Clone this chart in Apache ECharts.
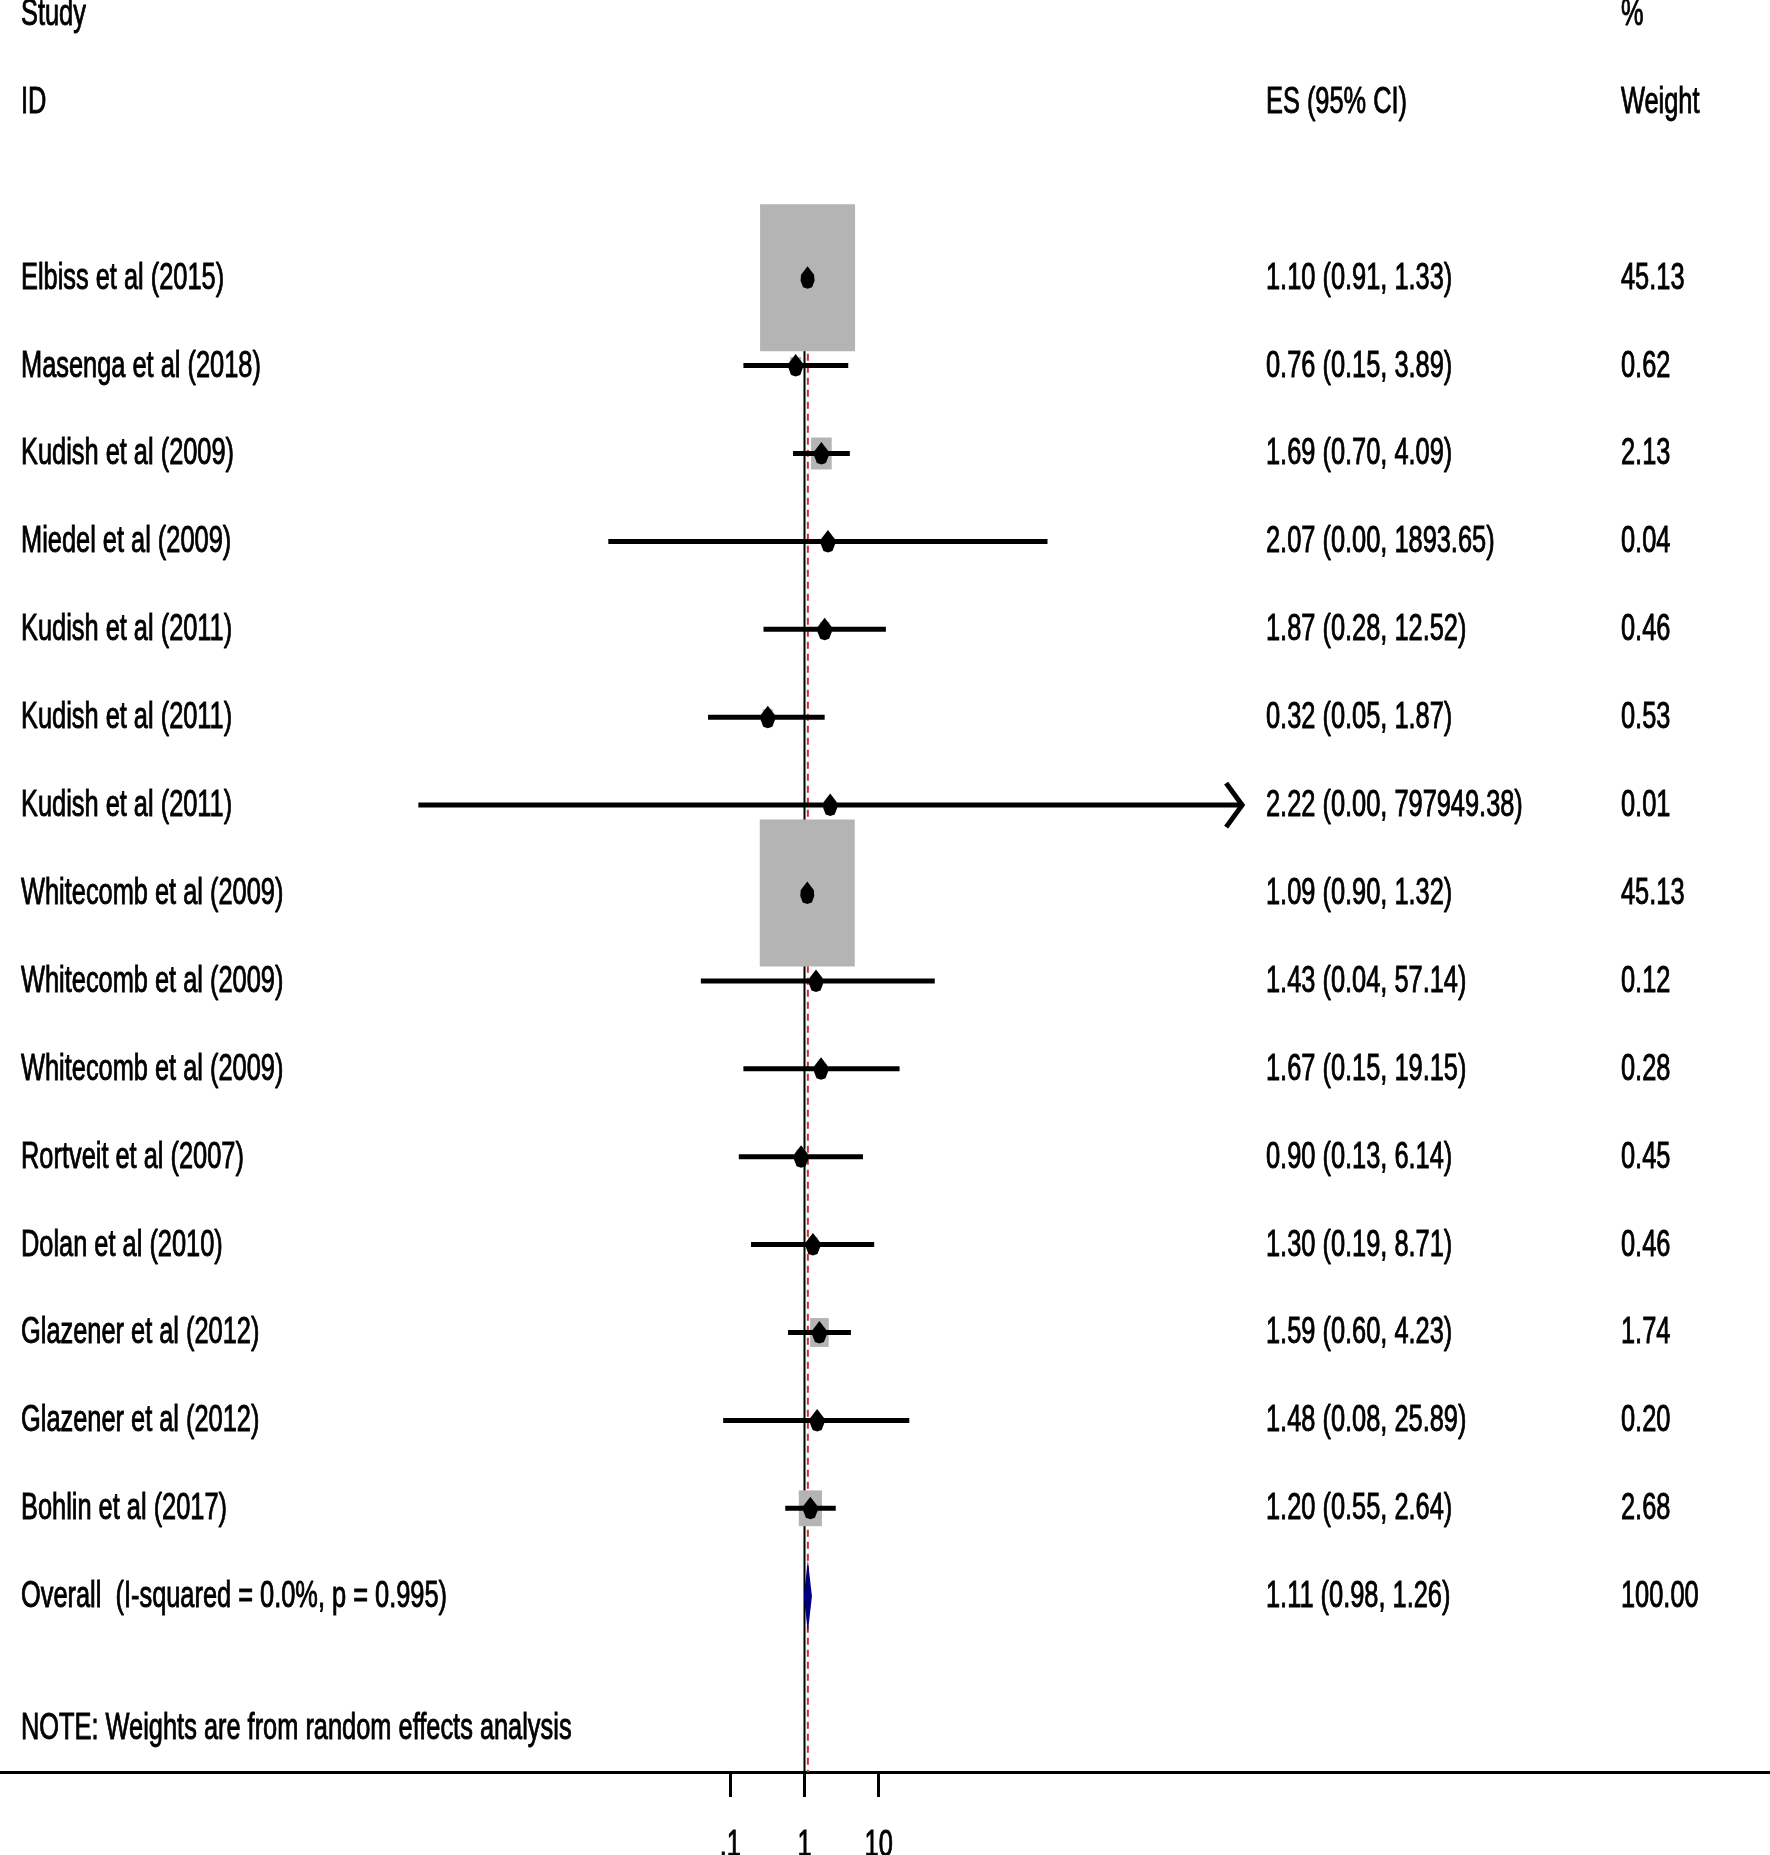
<!DOCTYPE html>
<html><head><meta charset="utf-8">
<script src="https://cdn.jsdelivr.net/npm/echarts@6/dist/echarts.min.js"></script>
<style>html,body{margin:0;padding:0;background:#fff}#c{width:1770px;height:1855px}</style>
</head><body><div id="c"></div>
<script>
// ---------------- data ----------------
const studies = ['Elbiss et al (2015)','Masenga et al (2018)','Kudish et al (2009)','Miedel et al (2009)',
  'Kudish et al (2011)','Kudish et al (2011)','Kudish et al (2011)','Whitecomb et al (2009)',
  'Whitecomb et al (2009)','Whitecomb et al (2009)','Rortveit et al (2007)','Dolan et al (2010)',
  'Glazener et al (2012)','Glazener et al (2012)','Bohlin et al (2017)'];
const es      = [1.10, 0.76, 1.69, 2.07, 1.87, 0.32, 2.22, 1.09, 1.43, 1.67, 0.90, 1.30, 1.59, 1.48, 1.20];
const ciLow   = [0.91, 0.15, 0.70, 0.00226, 0.28, 0.05, 0.0000062, 0.90, 0.04, 0.15, 0.13, 0.19, 0.60, 0.08, 0.55];
const ciHigh  = [1.33, 3.89, 4.09, 1893.65, 12.52, 1.87, 797949.38, 1.32, 57.14, 19.15, 6.14, 8.71, 4.23, 25.89, 2.64];
const weights = [45.13, 0.62, 2.13, 0.04, 0.46, 0.53, 0.01, 45.13, 0.12, 0.28, 0.45, 0.46, 1.74, 0.20, 2.68];
const arrowRight = [0,0,0,0,0,0,1,0,0,0,0,0,0,0,0];
const overallLabel = 'Overall  (I-squared = 0.0%, p = 0.995)';
const overallES = 1.11, overallLow = 0.98, overallHigh = 1.26, overallWeight = 100.00;
const nullValue = 1;
const headerTop = ['Study', '', '%'];
const headerBottom = ['ID', 'ES (95% CI)', 'Weight'];
const noteText = 'NOTE: Weights are from random effects analysis';
const tickValues = [0.1, 1, 10];
const tickLabels = ['.1', '1', '10'];

// ---------------- layout ----------------
const W = 1770, H = 1855;
const X1 = 804.5, DEC = 74.15;          // pixel of ES=1 and pixels per decade
const COLX = [21, 1266, 1621];
const SX = 0.705, FS = 36, DY = 1;
const FONT = '"Liberation Sans", Arial, sans-serif';
const fmt = v => v.toFixed(2);

function txt(x, y, s, align) {
  return { type: 'text', x: x, y: y + DY, scaleX: SX,
    style: { text: s, x: 0, y: 0, fill: '#000', stroke: '#000', lineWidth: 0.9,
             fontSize: FS, fontFamily: FONT,
             align: align || 'left', verticalAlign: 'middle' } };
}
const drop = [[0,-11.5],[6.5,-3],[7,3],[4.5,9.5],[0,11],[-4.5,9.5],[-7,3],[-6.5,-3]];

const chart = echarts.init(document.getElementById('c'), null, { renderer: 'canvas' });
const option = {
  animation: false,
  backgroundColor: '#fff',
  grid: [
    { left: 0, right: 0, top: 14, bottom: 83, outerBoundsMode: 'none', containLabel: false },
    { left: X1 - DEC, right: W - (X1 + DEC), top: 1700, bottom: 83, outerBoundsMode: 'none', containLabel: false }
  ],
  xAxis: [
    { type: 'log', logBase: 10, gridIndex: 0,
      min: Math.pow(10, -X1 / DEC), max: Math.pow(10, (W - X1) / DEC),
      axisLine: { show: true, onZero: false, lineStyle: { color: '#000', width: 3 } },
      axisTick: { show: false }, axisLabel: { show: false }, splitLine: { show: false } },
    { type: 'log', logBase: 10, gridIndex: 1, min: tickValues[0], max: tickValues[tickValues.length - 1],
      axisLine: { show: false },
      axisTick: { show: true, length: 25, lineStyle: { color: '#000', width: 3 } },
      axisLabel: { show: false },
      splitLine: { show: false } }
  ],
  yAxis: [
    { type: 'value', gridIndex: 0, min: -3, max: 17, inverse: true, show: false },
    { type: 'value', gridIndex: 1, min: 0, max: 1, show: false }
  ],
  series: [
    { // reference lines: null line (solid black) and overall line (red dashed)
      type: 'custom', xAxisIndex: 0, yAxisIndex: 0, z: 1, silent: true,
      data: [[nullValue, 0], [overallES, 1]],
      encode: { x: 0 },
      renderItem: function (params, api) {
        const v = api.value(0);
        const t = api.coord([v, -0.5]), b = api.coord([v, 17]);
        const dashed = api.value(1) === 1;
        return { type: 'line', shape: { x1: t[0], y1: t[1], x2: b[0], y2: b[1] },
          style: dashed ? { stroke: '#c8323c', lineWidth: 2, lineDash: [7, 5] }
                        : { stroke: '#000', lineWidth: 2 } };
      }
    },
    { // studies
      type: 'custom', xAxisIndex: 0, yAxisIndex: 0, z: 2, silent: true,
      data: studies.map((s, i) => [i, es[i], ciLow[i], ciHigh[i], weights[i], arrowRight[i]]),
      encode: { x: 1, y: 0 },
      renderItem: function (params, api) {
        const i = params.dataIndex;
        const row = api.value(0);
        const c = api.coord([api.value(1), row]);
        const cl = api.coord([api.value(2), row]);
        const ch = api.coord([api.value(3), row]);
        const w = api.value(4);
        const bw = 14.14 * Math.sqrt(w), bh = 21.9 * Math.sqrt(w);
        const ch0 = [
          { type: 'rect', shape: { x: c[0] - bw / 2, y: c[1] - bh / 2, width: bw, height: bh }, style: { fill: '#b4b4b4' } },
          { type: 'line', shape: { x1: cl[0], y1: c[1], x2: ch[0], y2: c[1] }, style: { stroke: '#000', lineWidth: 5 } }
        ];
        if (api.value(5) === 1) {
          ch0.push({ type: 'polyline', shape: { points: [[ch[0] - 16, c[1] - 22], [ch[0], c[1]], [ch[0] - 16, c[1] + 22]] },
            style: { stroke: '#000', lineWidth: 5, fill: null, lineJoin: 'miter' } });
        }
        ch0.push({ type: 'polygon', shape: { points: drop.map(p => [c[0] + p[0], c[1] + p[1]]) }, style: { fill: '#000' } });
        ch0.push(txt(COLX[0], c[1], studies[i]));
        ch0.push(txt(COLX[1], c[1], fmt(es[i]) + ' (' + fmt(ciLow[i]) + ', ' + fmt(ciHigh[i]) + ')'));
        ch0.push(txt(COLX[2], c[1], fmt(weights[i])));
        return { type: 'group', children: ch0 };
      }
    },
    { // overall diamond
      type: 'custom', xAxisIndex: 0, yAxisIndex: 0, z: 3, silent: true,
      data: [[studies.length, overallES, overallLow, overallHigh, overallWeight]],
      encode: { x: 1, y: 0 },
      renderItem: function (params, api) {
        const row = api.value(0);
        const c = api.coord([api.value(1), row]);
        const cl = api.coord([api.value(2), row]);
        const ch = api.coord([api.value(3), row]);
        return { type: 'group', children: [
          { type: 'polygon', shape: { points: [[cl[0], c[1]], [c[0], c[1] - 36], [ch[0], c[1]], [c[0], c[1] + 36]] },
            style: { fill: '#000080' } },
          txt(COLX[0], c[1], overallLabel),
          txt(COLX[1], c[1], fmt(overallES) + ' (' + fmt(overallLow) + ', ' + fmt(overallHigh) + ')'),
          txt(COLX[2], c[1], fmt(overallWeight))
        ] };
      }
    },
    { // headers and note
      type: 'custom', xAxisIndex: 0, yAxisIndex: 0, z: 3, silent: true,
      data: [[nullValue, 0]],
      encode: { x: 0, y: 1 },
      renderItem: function (params, api) {
        const yTop = api.coord([nullValue, -3])[1];
        const yBot = api.coord([nullValue, -2])[1];
        const yNote = api.coord([nullValue, studies.length + 1.5])[1];
        const ch = [];
        headerTop.forEach((s, k) => { if (s) ch.push(txt(COLX[k], yTop, s)); });
        headerBottom.forEach((s, k) => { if (s) ch.push(txt(COLX[k], yBot, s)); });
        ch.push(txt(COLX[0], yNote, noteText));
        return { type: 'group', children: ch };
      }
    },
    { // tick labels positioned by the tick axis scale
      type: 'custom', xAxisIndex: 1, yAxisIndex: 1, z: 3, silent: true,
      data: tickValues.map((v, k) => [v, k]),
      encode: { x: 0 },
      renderItem: function (params, api) {
        const p = api.coord([api.value(0), 0]);
        return txt(p[0], p[1] + 73, tickLabels[api.value(1)], 'center');
      }
    }
  ]
};
chart.setOption(option);
</script>
</body></html>
